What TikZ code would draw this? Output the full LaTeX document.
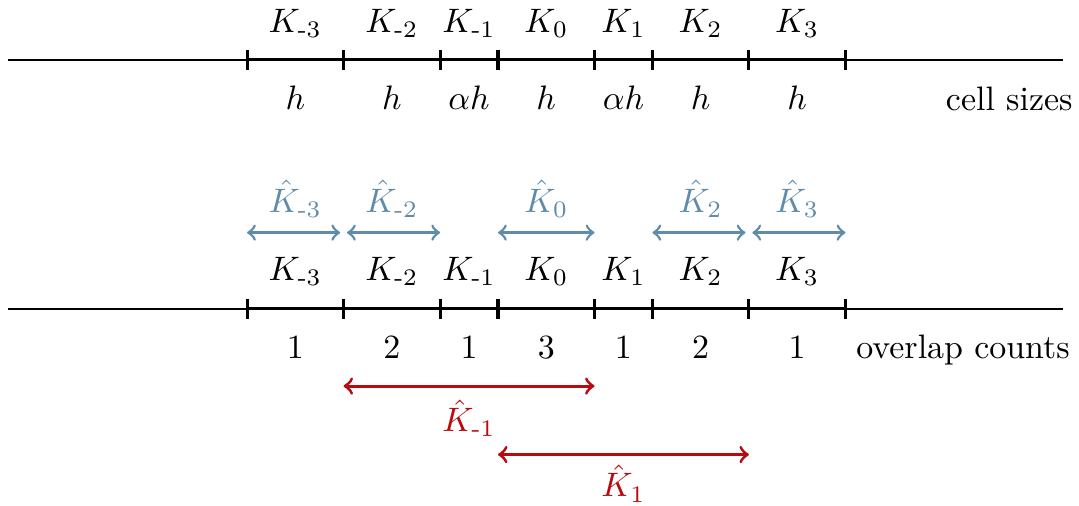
\documentclass[tikz,border=0pt]{standalone}
\usepackage{amsmath}
\usetikzlibrary{positioning}
\definecolor{coverblue}{RGB}{96,140,172}
\definecolor{patchred}{RGB}{185,10,16}

\begin{document}
\begin{tikzpicture}[
  axis/.style={line width=0.4pt},
  seg/.style={line width=0.9pt},
  tickmark/.style={line width=0.9pt},
  lab/.style={inner sep=0pt},
  cover/.style={<->, line width=0.8pt, coverblue},
  patch/.style={<->, line width=0.9pt, patchred}
]
\useasboundingbox (-2.56,-2.04) rectangle (8.62,3.20);

% tick positions, cells h and alpha h
\foreach \x [count=\i from 0] in {0,1,2,2.6,3.6,4.2,5.2,6.2} {
  \coordinate (a\i) at (\x,2.58);
  \coordinate (b\i) at (\x,0);
  \coordinate (c\i) at (\x,0.79);
}
\coordinate (aL) at (-2.48,2.58);
\coordinate (aR) at (8.45,2.58);
\coordinate (bL) at (-2.48,0);
\coordinate (bR) at (8.45,0);

% the two lines
\draw[axis] (aL) -- (aR);
\draw[axis] (bL) -- (bR);
\draw[seg] (a0) -- (a7);
\draw[seg] (b0) -- (b7);
\foreach \i in {0,...,7} {
  \draw[tickmark] ([yshift=-1mm]a\i) -- ([yshift=1mm]a\i);
  \draw[tickmark] ([yshift=-1mm]b\i) -- ([yshift=1mm]b\i);
}

% cell labels
\foreach \i/\j/\name/\size/\cnt in {0/1/{\text{-}3}/h/1, 1/2/{\text{-}2}/h/2,
    2/3/{\text{-}1}/\alpha h/1, 3/4/0/h/3, 4/5/1/\alpha h/1, 5/6/2/h/2, 6/7/3/h/1} {
  \path (a\i) -- node[lab, anchor=base, yshift=8pt] (ka\i) {$K_{\name}$} (a\j);
  \path (a\i) -- node[lab, anchor=base, yshift=-14.7pt] (sa\i) {$\size$} (a\j);
  \path (b\i) -- node[lab, anchor=base, yshift=8.3pt] (kb\i) {$K_{\name}$} (b\j);
  \path (b\i) -- node[lab, anchor=base, yshift=-14.7pt] (nb\i) {$\cnt$} (b\j);
}
\node[lab, anchor=base east] (sizes) at (8.56,2.06) {cell sizes};
\node[lab, anchor=base east] (counts) at (8.53,-0.51) {overlap counts};

% covering cells
\draw[cover, shorten >=1pt] (c0) -- node[lab, anchor=base, yshift=6pt] (hm3) {$\hat{K}_{\text{-}3}$} (c1);
\draw[cover, shorten <=1pt] (c1) -- node[lab, anchor=base, yshift=6pt] (hm2) {$\hat{K}_{\text{-}2}$} (c2);
\draw[cover] (c3) -- node[lab, anchor=base, yshift=6pt] (h0) {$\hat{K}_{0}$} (c4);
\draw[cover, shorten >=1pt] (c5) -- node[lab, anchor=base, yshift=6pt] (h2) {$\hat{K}_{2}$} (c6);
\draw[cover, shorten <=1pt] (c6) -- node[lab, anchor=base, yshift=6pt] (h3) {$\hat{K}_{3}$} (c7);

% merged cells
\coordinate (d1) at (1,-0.80);
\coordinate (d4) at (3.6,-0.80);
\coordinate (e3) at (2.6,-1.51);
\coordinate (e6) at (5.2,-1.51);
\draw[patch] (d1) -- node[lab, anchor=base, yshift=-13.5pt] (hm1) {$\hat{K}_{\text{-}1}$} (d4);
\draw[patch] (e3) -- node[lab, anchor=base, yshift=-12.5pt] (h1) {$\hat{K}_{1}$} (e6);
\end{tikzpicture}
\end{document}
